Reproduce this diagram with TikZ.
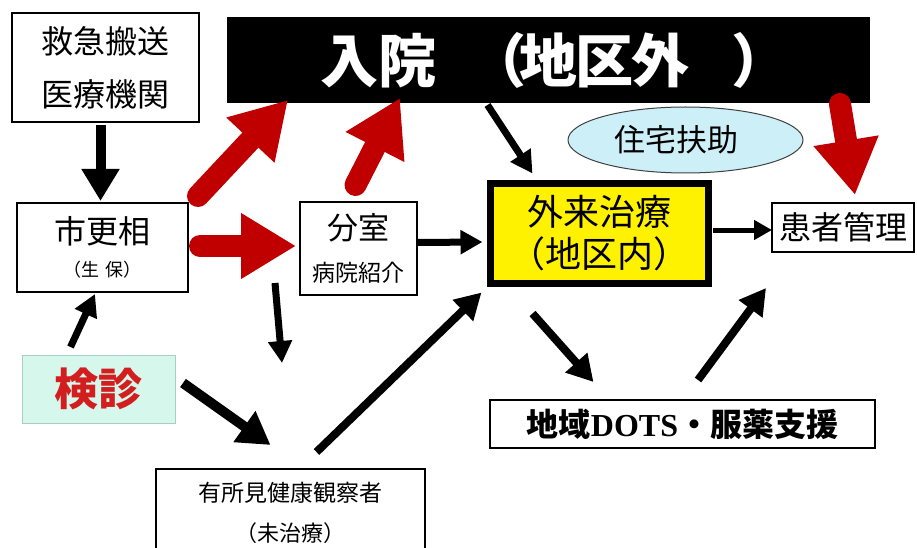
\documentclass[tikz,border=0pt]{standalone}
\usepackage{fontspec}
\setmainfont{Noto Sans CJK JP}
\newfontfamily\serifb{Liberation Serif}
\usetikzlibrary{arrows.meta,shapes.geometric,calc}
\definecolor{redarrow}{RGB}{192,0,0}
\definecolor{cyanfill}{RGB}{205,240,248}
\definecolor{mintfill}{RGB}{214,247,236}
\definecolor{mintline}{RGB}{170,205,195}
\definecolor{redtext}{RGB}{210,30,30}
\newcommand\myfs[2]{\fontsize{#1}{#2}\selectfont}
\begin{document}
\begin{tikzpicture}[x=1pt,y=-1pt,
  box/.style={draw=black,line width=1.5pt,fill=white,inner sep=0pt,outer sep=0pt,align=center},
  fat/.style={redarrow,line width=22pt,line cap=round,-{Triangle[width=62pt,length=55pt]}},
  blkL/.style={draw=black,line width=10pt,-{Triangle[width=36pt,length=32pt]}},
  blk/.style={draw=black,line width=8pt,-{Triangle[width=28pt,length=26pt]}},
  blkS/.style={draw=black,line width=7pt,-{Triangle[width=23pt,length=22pt]}},
  blkT/.style={draw=black,line width=5pt,-{Triangle[width=19pt,length=18pt]}}]
\useasboundingbox (0,0) rectangle (917,548);
\clip (0,0) rectangle (917,548);
\fill[white] (0,0) rectangle (917,548);

\node[box,minimum width=187pt,minimum height=109pt,font=\myfs{32}{53}] (kyu) at (105.5,67.5) {救急搬送\\医療機関};
\node[fill=black,minimum width=643pt,minimum height=86pt,inner sep=0pt,outer sep=0pt,text=white,font=\myfs{58}{58}\bfseries] (ban) at (548.5,60) {\makebox[643pt][l]{\hspace*{93pt}入院\hspace*{33pt}（\hspace*{-8pt}地\hspace*{-2pt}区\hspace*{-2pt}外\hspace*{43pt}）}};
\node[ellipse,draw=black!75,fill=cyanfill,line width=1pt,minimum width=235pt,minimum height=66pt,inner sep=0pt,outer sep=0pt,font=\myfs{31}{31}] (jyu) at (685.5,140) {住宅扶助\hspace*{19pt}};
\node[box,minimum width=171pt,minimum height=89pt,font=\myfs{18}{33.6}] (shi) at (102.5,247.5) {{\myfs{32}{33.6}市更相}\\（生\hspace{6pt}保）};
\node[box,minimum width=117pt,minimum height=93pt,font=\myfs{23}{42}] (bun) at (358.5,248.5) {{\myfs{31}{42}分室}\\病院紹介};
\node[box,line width=7pt,fill=yellow,minimum width=218pt,minimum height=100pt,font=\myfs{36}{42}] (gai) at (599.5,233.5) {外来治療\\（地区内）};
\node[box,minimum width=142pt,minimum height=49pt,font=\myfs{32}{32}] (kan) at (843,227.5) {患者管理};
\node[box,draw=mintline,fill=mintfill,line width=1pt,minimum width=153pt,minimum height=68pt,text=redtext,font=\myfs{44}{44}\bfseries] (ken) at (98.5,389) {検診};
\node[box,minimum width=269pt,minimum height=88pt,font=\myfs{22}{40}] (yu) at (290.5,513) {{\myfs{23}{40}有所見健康観察者}\\（未治療）};
\node[box,minimum width=385pt,minimum height=48pt,font=\myfs{32}{32}\bfseries] (dots) at (682.5,424) {地域{\serifb DOTS}・服薬支援};

\coordinate (c1) at (275,283);
\coordinate (c2) at (282,363);

\draw[blkL] ($(kyu.south)+(-5,3)$) -- ($(shi.north)+(-2,-2)$);
\draw[blkS] ($(ken.north)+(-28,-8)$) -- ($(shi.south)+(-7.5,2)$);
\draw[blkS] (c1) -- (c2);
\draw[blkL] ($(ken.east)+(8,-6)$) -- ($(yu.north)+(-20,-24)$);
\draw[blk] ($(yu.north)+(26,-17)$) -- ($(gai.south west)+(-9,9)$);
\draw[blkS] ($(bun.east)+(0,-6)$) -- ($(gai.west)+(-8,8.5)$);
\draw[blkS] ($(ban.south)+(-61,2)$) -- ($(gai.north)+(-67,-10)$);
\draw[blkT] ($(gai.east)+(4,-3.5)$) -- ($(kan.west)+(0,2.5)$);
\draw[blk] ($(gai.south)+(-67,30)$) -- ($(dots.north)+(-89,-18)$);
\draw[blk] ($(dots.north)+(15.5,-20)$) -- ($(kan.south)+(-77,36)$);

\draw[fat] ($(shi.north east)+(10,-7)$) -- ($(ban.south west)+(61,-3)$);
\draw[fat] ($(bun.north)+(-3,-17)$) -- ($(ban.south west)+(173,-5)$);
\draw[fat] ($(shi.east)+(12,-1.5)$) -- ($(bun.west)+(-4,-2.5)$);
\draw[fat] ($(ban.south east)+(-30,1)$) -- ($(kan.north)+(12,-8)$);
\end{tikzpicture}
\end{document}
